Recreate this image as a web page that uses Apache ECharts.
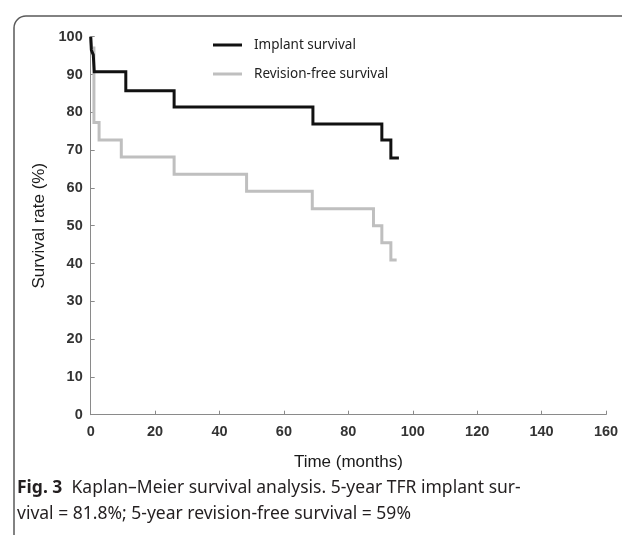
<!DOCTYPE html>
<html>
<head>
<meta charset="utf-8">
<script src="https://cdn.jsdelivr.net/npm/echarts@6/dist/echarts.min.js"></script>
<style>
html,body{margin:0;padding:0;background:#fff;}
#c{width:622px;height:535px;}
</style>
</head>
<body>
<div id="c"></div>
<script>
// Data
const implantTimes = [0, 0.2, 0.8, 1.1, 10.9, 25.9, 69.0, 90.4, 93.2, 95.7];
const implantSurv  = [100, 96.5, 95.2, 90.7, 85.7, 81.4, 76.9, 72.7, 67.9, 67.9];
const revisionTimes = [0, 0.3, 1.0, 2.6, 9.5, 25.9, 48.4, 68.8, 87.8, 90.4, 93.2, 95.0];
const revisionSurv  = [100, 97.0, 77.3, 72.7, 68.2, 63.6, 59.1, 54.5, 50.0, 45.5, 40.9, 40.9];
const xTicks = [0, 20, 40, 60, 80, 100, 120, 140, 160];
const yTicks = [0, 10, 20, 30, 40, 50, 60, 70, 80, 90, 100];
const seriesNames = ['Implant survival', 'Revision-free survival'];
const xTitle = 'Time (months)';
const yTitle = 'Survival rate (%)';
const captionBold = 'Fig. 3';
const captionLine1 = '  Kaplan–Meier survival analysis. 5-year TFR implant sur-';
const captionLine2 = 'vival = 81.8%; 5-year revision-free survival = 59%';

const zip = (a, b) => a.map((v, i) => [v, b[i]]);

const chart = echarts.init(document.getElementById('c'), null, {renderer: 'canvas'});
const axisColor = '#8a8a8a';
const labelFont = 'Liberation Sans, Arial, sans-serif';

chart.setOption({
  animation: false,
  backgroundColor: '#fff',
  grid: {left: 90.7, right: 16, top: 36.7, bottom: 120.3, containLabel: false},
  xAxis: {
    type: 'value', min: xTicks[0], max: xTicks[xTicks.length - 1], interval: 20,
    name: xTitle, nameLocation: 'middle', nameGap: 39,
    nameTextStyle: {fontFamily: labelFont, fontSize: 17, color: '#1a1a1a'},
    axisLine: {show: true, lineStyle: {color: axisColor, width: 1}},
    axisTick: {show: true, inside: true, length: 4, lineStyle: {color: axisColor}},
    axisLabel: {fontFamily: labelFont, fontSize: 14.5, fontWeight: 'bold', color: '#333', margin: 10},
    splitLine: {show: false}
  },
  yAxis: {
    type: 'value', min: yTicks[0], max: yTicks[yTicks.length - 1], interval: 10,
    name: yTitle, nameLocation: 'middle', nameGap: 38, nameRotate: 90,
    nameTextStyle: {fontFamily: labelFont, fontSize: 17, color: '#1a1a1a'},
    axisLine: {show: true, lineStyle: {color: axisColor, width: 1}},
    axisTick: {show: true, inside: true, length: 4, lineStyle: {color: axisColor}},
    axisLabel: {fontFamily: labelFont, fontSize: 14.5, fontWeight: 'bold', color: '#333', margin: 8},
    splitLine: {show: false}
  },
  legend: {
    orient: 'vertical', left: 213, top: 38, itemGap: 15, padding: 0,
    itemWidth: 29, itemHeight: 3, icon: 'rect',
    textStyle: {fontFamily: 'Noto Sans, sans-serif', fontSize: 13.5, color: '#222', padding: [0, 0, 0, 7]},
    data: seriesNames
  },
  series: [
    {
      name: seriesNames[1], type: 'line', step: 'end', showSymbol: false,
      data: zip(revisionTimes, revisionSurv),
      lineStyle: {color: '#bfbfbf', width: 3, join: 'miter'},
      itemStyle: {color: '#bfbfbf'}, z: 2
    },
    {
      name: seriesNames[0], type: 'line', step: 'end', showSymbol: false,
      data: zip(implantTimes, implantSurv),
      lineStyle: {color: '#111', width: 3, join: 'miter'},
      itemStyle: {color: '#111'}, z: 3
    }
  ],
  graphic: [
    {
      type: 'rect', left: 11.5, top: 13.5, z: -1,
      shape: {x: 0, y: 0, width: 700, height: 600, r: 12},
      style: {fill: 'none', stroke: '#5a5a5a', lineWidth: 1.5}
    },
    {
      type: 'text', left: 17, top: 479,
      style: {
        text: '{b|' + captionBold + '}{n|' + captionLine1 + '}',
        rich: {
          b: {fontFamily: 'Noto Sans, sans-serif', fontWeight: 'bold', fontSize: 17.5, fill: '#231f20'},
          n: {fontFamily: 'Noto Sans, sans-serif', fontSize: 17.5, fill: '#231f20'}
        }
      }
    },
    {
      type: 'text', left: 17, top: 505,
      style: {text: captionLine2, fontFamily: 'Noto Sans, sans-serif', fontSize: 17.5, fill: '#231f20'}
    }
  ]
});
</script>
</body>
</html>
